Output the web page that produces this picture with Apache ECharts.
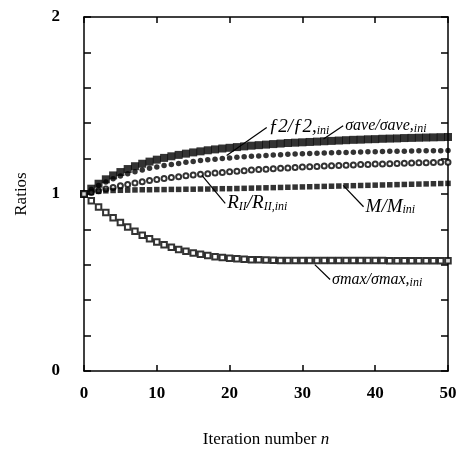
<!DOCTYPE html>
<html><head><meta charset="utf-8">
<script src="https://cdn.jsdelivr.net/npm/echarts@6/dist/echarts.min.js"></script>
<style>html,body{margin:0;padding:0;background:#fff}#c{width:461px;height:453px}</style>
</head><body><div id="c"></div>
<script>
const iterations = Array.from({length: 51}, (_, i) => i);
const sigmaAve = [1.000,1.030,1.058,1.083,1.105,1.124,1.141,1.157,1.171,1.183,1.194,1.204,1.213,1.221,1.228,1.235,1.241,1.247,1.252,1.257,1.261,1.265,1.269,1.273,1.276,1.279,1.282,1.285,1.288,1.290,1.292,1.294,1.296,1.298,1.300,1.302,1.304,1.306,1.307,1.309,1.310,1.312,1.313,1.314,1.316,1.317,1.318,1.319,1.320,1.321,1.322];
const f2 = [1.000,1.025,1.048,1.068,1.086,1.101,1.114,1.126,1.136,1.145,1.153,1.161,1.167,1.173,1.179,1.184,1.189,1.193,1.197,1.201,1.204,1.207,1.210,1.213,1.215,1.218,1.220,1.222,1.224,1.226,1.227,1.229,1.230,1.232,1.233,1.234,1.235,1.236,1.237,1.238,1.239,1.240,1.241,1.242,1.242,1.243,1.244,1.244,1.245,1.245,1.246];
const rII = [1.000,1.008,1.018,1.028,1.037,1.046,1.054,1.062,1.069,1.076,1.082,1.088,1.093,1.098,1.103,1.107,1.111,1.115,1.119,1.122,1.126,1.129,1.132,1.135,1.138,1.140,1.143,1.145,1.147,1.150,1.152,1.154,1.156,1.158,1.159,1.161,1.163,1.164,1.166,1.167,1.169,1.170,1.171,1.173,1.174,1.175,1.176,1.177,1.178,1.179,1.180];
const mRatio = [1.000,1.010,1.015,1.018,1.020,1.021,1.022,1.023,1.024,1.024,1.025,1.025,1.026,1.026,1.027,1.027,1.028,1.028,1.029,1.030,1.030,1.031,1.032,1.033,1.034,1.035,1.036,1.037,1.038,1.039,1.040,1.041,1.042,1.043,1.044,1.045,1.046,1.047,1.048,1.049,1.050,1.051,1.052,1.053,1.054,1.055,1.056,1.057,1.058,1.059,1.060];
const sigmaMax = [1.000,0.962,0.926,0.895,0.866,0.839,0.813,0.789,0.767,0.747,0.729,0.713,0.699,0.686,0.676,0.667,0.659,0.652,0.646,0.641,0.637,0.634,0.631,0.629,0.628,0.627,0.626,0.625,0.625,0.624,0.624,0.624,0.624,0.624,0.624,0.624,0.624,0.624,0.624,0.624,0.624,0.624,0.623,0.623,0.623,0.623,0.623,0.623,0.623,0.623,0.623];
const xTicks = [0, 10, 20, 30, 40, 50];
const yTickLabels = [0, 1, 2];

const serif = '"Liberation Serif", "DejaVu Serif", serif';
const pairs = arr => iterations.map((n, i) => [n, arr[i]]);

const rich = {
  m: {fontFamily: serif, fontStyle: 'italic', fontSize: 16, color: '#000'},
  b: {fontFamily: serif, fontStyle: 'italic', fontSize: 19, color: '#000'},
  s: {fontFamily: serif, fontStyle: 'italic', fontSize: 12, color: '#000', verticalAlign: 'bottom', padding: [6, 0, 0, 0]}
};

function annot(start, end, text) {
  return {
    markLine: {
      silent: true, symbol: 'none', animation: false,
      lineStyle: {color: '#000', width: 1.2, type: 'solid'},
      label: {show: false},
      data: [[{coord: start}, {coord: end}]]
    },
    markPoint: {
      silent: true, symbol: 'circle', symbolSize: 0, animation: false,
      label: {show: true, position: 'right', distance: 2, formatter: text, rich: rich},
      data: [{coord: start}]
    }
  };
}

const chart = echarts.init(document.getElementById('c'));
const axisLine = {show: true, onZero: false, lineStyle: {color: '#000', width: 1.5}};
const tickStyle = {color: '#000', width: 1.5};
const base = {type: 'scatter', animation: false, z: 3};
chart.setOption({
  backgroundColor: '#fff',
  grid: {left: 84, right: 13, top: 17, bottom: 79},
  xAxis: [
    {type: 'value', min: 0, max: 50, interval: 10, position: 'bottom',
     axisLine, splitLine: {show: false},
     axisTick: {show: true, inside: true, length: 6, lineStyle: tickStyle},
     axisLabel: {margin: 14, fontFamily: serif, fontSize: 17, fontWeight: 'bold', color: '#000',
       formatter: v => xTicks.includes(v) ? String(v) : ''},
     name: '{a|Iteration number }{i|n}', nameLocation: 'middle', nameGap: 60,
     nameTextStyle: {rich: {
       a: {fontFamily: serif, fontSize: 17, color: '#000'},
       i: {fontFamily: serif, fontSize: 17, fontStyle: 'italic', color: '#000'}}}
    },
    {type: 'value', min: 0, max: 50, interval: 10, position: 'top',
     axisLine, splitLine: {show: false}, axisLabel: {show: false},
     axisTick: {show: true, inside: true, length: 6, lineStyle: tickStyle}}
  ],
  yAxis: [
    {type: 'value', min: 0, max: 2, interval: 0.2, position: 'left',
     axisLine, splitLine: {show: false},
     axisTick: {show: true, inside: true, length: 7, lineStyle: tickStyle},
     axisLabel: {margin: 24, fontFamily: serif, fontSize: 17, fontWeight: 'bold', color: '#000',
       formatter: v => { const r = Math.round(v); return (Math.abs(v - r) < 1e-6 && yTickLabels.includes(r)) ? String(r) : ''; }},
     name: 'Ratios', nameLocation: 'middle', nameGap: 54,
     nameTextStyle: {fontFamily: serif, fontSize: 17, color: '#000'}},
    {type: 'value', min: 0, max: 2, interval: 0.2, position: 'right',
     axisLine, splitLine: {show: false}, axisLabel: {show: false},
     axisTick: {show: true, inside: true, length: 7, lineStyle: tickStyle}}
  ],
  series: [
    Object.assign({}, base, {name: 'sigmaAve', data: pairs(sigmaAve), symbol: 'rect', symbolSize: 8,
      itemStyle: {color: '#000'}},
      annot([35.6, 1.385], [32.9, 1.311], '{m|σave/σave,}{s|ini}')),
    Object.assign({}, base, {name: 'f2', data: pairs(f2), symbol: 'circle', symbolSize: 5.5,
      itemStyle: {color: '#000'}},
      annot([25.1, 1.376], [19.6, 1.217], '{b|ƒ2/ƒ2,}{s|ini}')),
    Object.assign({}, base, {name: 'rII', data: pairs(rII), symbol: 'emptyCircle', symbolSize: 5,
      itemStyle: {color: '#000', borderWidth: 1.6}},
      annot([19.4, 0.947], [16.2, 1.105], '{b|R}{s|II}{b|/R}{s|II,ini}')),
    Object.assign({}, base, {name: 'M', data: pairs(mRatio), symbol: 'rect', symbolSize: 5.5,
      itemStyle: {color: '#000'}},
      annot([38.4, 0.928], [35.6, 1.049], '{b|M/M}{s|ini}')),
    Object.assign({}, base, {name: 'sigmaMax', data: pairs(sigmaMax), symbol: 'emptyRect', symbolSize: 5.5,
      itemStyle: {color: '#000', borderWidth: 1.8}},
      annot([33.8, 0.517], [31.7, 0.601], '{m|σmax/σmax,}{s|ini}'))
  ]
});
</script>
</body></html>
